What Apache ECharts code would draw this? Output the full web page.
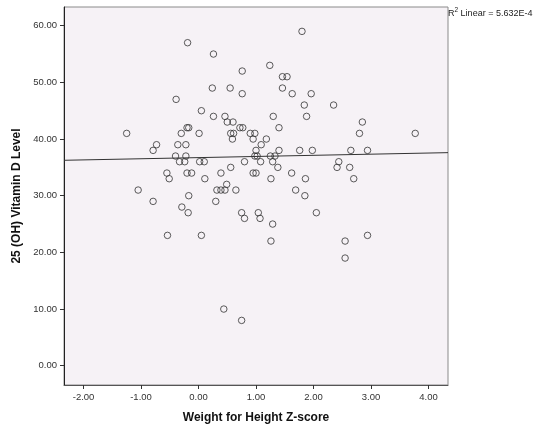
<!DOCTYPE html>
<html>
<head>
<meta charset="utf-8">
<script src="https://cdn.jsdelivr.net/npm/echarts@6/dist/echarts.min.js"></script>
<style>
html,body{margin:0;padding:0;background:#fff;}
#c{width:534px;height:429px;}
</style>
</head>
<body>
<div id="c"></div>
<script>
// Weight for Height Z-score (x) and 25 (OH) Vitamin D Level (y)
var zScore = [
 -0.19,-0.39,0.05,-0.20,-0.17,-1.25,-0.30,0.01,-0.73,-0.79,
 -0.36,-0.22,-0.40,-0.22,-0.33,-0.24,0.02,0.10,-0.55,-0.51,
 -0.20,-0.12,-1.05,-0.17,-0.79,-0.29,-0.18,-0.54,0.05,1.80,
 0.26,1.24,0.76,1.46,1.54,0.24,0.55,1.46,0.76,1.63,
 1.96,1.84,0.26,0.46,1.30,1.88,0.50,0.60,1.40,0.72,
 0.77,0.56,0.61,0.90,0.98,0.59,0.95,1.18,1.09,1.40,
 1.00,1.76,1.98,0.98,1.02,1.25,1.33,0.80,1.08,1.29,
 0.56,1.38,0.39,0.95,1.00,1.62,0.11,1.26,1.86,0.49,
 0.32,0.39,0.46,0.65,1.69,0.30,1.85,0.75,1.04,0.80,
 1.07,2.05,1.29,1.26,0.44,0.75,2.35,2.85,2.80,3.77,
 2.65,2.94,2.44,2.41,2.63,2.70,2.94,2.55,2.55
];
var vitD = [
 57,47,45,42,42,41,41,41,39,38,
 39,39,37,37,36,36,36,36,34,33,
 34,34,31,30,29,28,27,23,23,59,
 55,53,52,51,51,49,49,49,48,48,
 48,46,44,44,44,44,43,43,42,42,
 42,41,41,41,41,40,40,40,39,38,
 38,38,38,37,37,37,37,36,36,36,
 35,35,34,34,34,34,33,33,33,32,
 31,31,31,31,31,29,30,27,27,26,
 26,27,25,22,10,8,46,43,41,41,
 38,38,36,35,35,33,23,22,19
];
// Linear fit line endpoints
var fitX = [-2.34, 4.34];
var fitY = [36.25, 37.6];
var xTicks = [-2, -1, 0, 1, 2, 3, 4];
var yTicks = [0, 10, 20, 30, 40, 50, 60];
var r2Text = "5.632E-4";

var points = zScore.map(function(x, i){ return [x, vitD[i]]; });
var fitLine = fitX.map(function(x, i){ return [x, fitY[i]]; });

var chart = echarts.init(document.getElementById('c'), null, {renderer:'canvas'});
var labelFont = {fontFamily:'Liberation Sans, Arial, sans-serif', fontSize:9.5, color:'#333'};
chart.setOption({
  animation:false,
  grid:{left:64, top:7, right:86, bottom:41, show:true, backgroundColor:'#F6F2F6', borderColor:'#8a8a8a', borderWidth:1},
  xAxis:{
    type:'value', min:-2.34, max:4.34,
    splitLine:{show:false},
    axisLine:{show:true, onZero:false, lineStyle:{color:'#555', width:1}},
    axisTick:{show:true, length:4, lineStyle:{color:'#333'}, customValues:xTicks},
    axisLabel:Object.assign({margin:7, customValues:xTicks, formatter:function(v){return v.toFixed(2);}}, labelFont),
    name:'Weight for Height Z-score', nameLocation:'middle', nameGap:27,
    nameTextStyle:{fontFamily:'Liberation Sans, Arial, sans-serif', fontWeight:'bold', fontSize:12, color:'#111'}
  },
  yAxis:{
    type:'value', min:-3.4, max:63.3,
    splitLine:{show:false},
    axisLine:{show:true, onZero:false, lineStyle:{color:'#222', width:1}},
    axisTick:{show:true, length:4, lineStyle:{color:'#333'}, customValues:yTicks},
    axisLabel:Object.assign({margin:7, customValues:yTicks, formatter:function(v){return v.toFixed(2);}}, labelFont),
    name:'25 (OH) Vitamin D Level', nameLocation:'middle', nameGap:41, nameRotate:90,
    nameTextStyle:{fontFamily:'Liberation Sans, Arial, sans-serif', fontWeight:'bold', fontSize:12, color:'#111'}
  },
  series:[
    {type:'line', data:fitLine, showSymbol:false, silent:true, z:1,
     lineStyle:{color:'#333', width:1}},
    {type:'scatter', data:points, symbol:'circle', symbolSize:6.5, z:2,
     itemStyle:{color:'rgba(0,0,0,0)', borderColor:'#333', borderWidth:1}}
  ],
  graphic:[{
    type:'text', left:448, top:7,
    style:{
      text:'{a|R}{s|2}{a| Linear = ' + r2Text + '}',
      rich:{
        a:{fontFamily:'Liberation Sans, Arial, sans-serif', fontSize:9, fill:'#222', color:'#222', verticalAlign:'bottom'},
        s:{fontFamily:'Liberation Sans, Arial, sans-serif', fontSize:6.5, fill:'#222', color:'#222', verticalAlign:'top', padding:[0,0,4,0]}
      }
    }
  }]
});
</script>
</body>
</html>
